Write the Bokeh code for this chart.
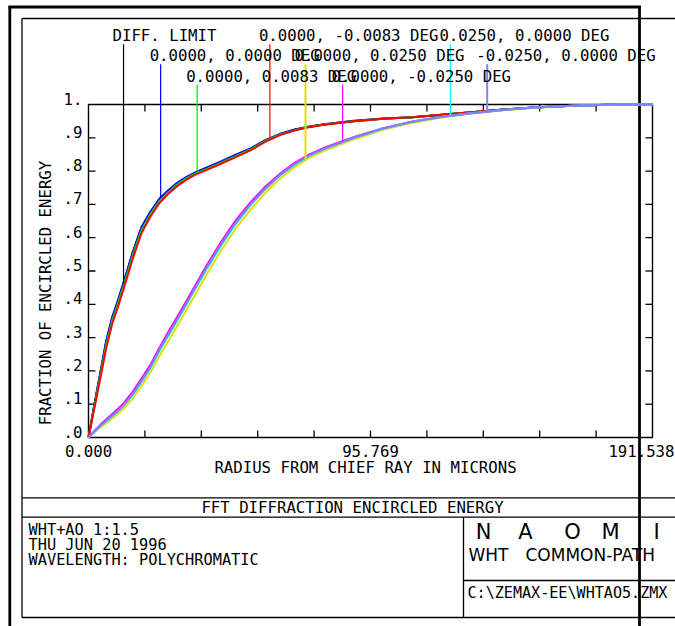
import numpy as np
from bokeh.plotting import figure
from bokeh.models import Range1d
from bokeh.core.properties import value
from bokeh.embed import file_html
from bokeh.resources import INLINE

# ---------------- data ----------------
radius_um = [0, 2, 4, 6, 8, 10, 12, 15, 18, 21, 24, 27, 30, 33, 36, 40, 45, 50, 55,
             60, 65, 70, 75, 80, 90, 100, 110, 120, 130, 140, 150, 160, 170, 180, 191.538]

ee_diff_limit = [0, 0.098, 0.192, 0.287, 0.357, 0.409, 0.465, 0.553, 0.629, 0.675, 0.713, 0.739,
                 0.762, 0.779, 0.793, 0.808, 0.827, 0.847, 0.866, 0.891, 0.910, 0.924, 0.933,
                 0.940, 0.950, 0.957, 0.962, 0.969, 0.977, 0.984, 0.990, 0.995, 0.998, 1.000, 1.000]
ee_0000_0000 = [0, 0.100, 0.195, 0.290, 0.360, 0.412, 0.468, 0.556, 0.632, 0.678, 0.716, 0.742,
                0.764, 0.781, 0.795, 0.810, 0.829, 0.849, 0.868, 0.893, 0.912, 0.925, 0.934,
                0.941, 0.951, 0.958, 0.962, 0.969, 0.977, 0.984, 0.990, 0.995, 0.998, 1.000, 1.000]
ee_0000_p0083 = [0, 0.094, 0.186, 0.279, 0.350, 0.402, 0.458, 0.546, 0.623, 0.670, 0.709, 0.736,
                 0.759, 0.777, 0.791, 0.806, 0.825, 0.845, 0.865, 0.890, 0.910, 0.923, 0.933,
                 0.940, 0.950, 0.957, 0.962, 0.969, 0.977, 0.984, 0.990, 0.995, 0.998, 1.000, 1.000]
ee_0000_m0083 = [0, 0.088, 0.177, 0.268, 0.340, 0.392, 0.448, 0.536, 0.614, 0.663, 0.703, 0.731,
                 0.754, 0.773, 0.788, 0.803, 0.822, 0.842, 0.862, 0.888, 0.908, 0.922, 0.932,
                 0.939, 0.950, 0.957, 0.962, 0.969, 0.977, 0.984, 0.990, 0.995, 0.998, 1.000, 1.000]
ee_0000_p0250 = [0, 0.015, 0.030, 0.043, 0.057, 0.071, 0.087, 0.117, 0.155, 0.195, 0.243, 0.288,
                 0.333, 0.379, 0.425, 0.488, 0.561, 0.627, 0.684, 0.734, 0.777, 0.812, 0.840,
                 0.861, 0.895, 0.924, 0.945, 0.961, 0.973, 0.982, 0.989, 0.995, 0.998, 1.000, 1.000]
ee_0000_m0250 = [0, 0.020, 0.038, 0.054, 0.070, 0.086, 0.104, 0.137, 0.177, 0.218, 0.268, 0.315,
                 0.360, 0.406, 0.453, 0.515, 0.587, 0.652, 0.706, 0.753, 0.792, 0.825, 0.850,
                 0.870, 0.902, 0.929, 0.949, 0.963, 0.974, 0.983, 0.990, 0.995, 0.998, 1.000, 1.000]
ee_p0250_0000 = [0, 0.017, 0.034, 0.048, 0.063, 0.078, 0.096, 0.127, 0.167, 0.208, 0.258, 0.304,
                 0.349, 0.395, 0.442, 0.504, 0.576, 0.641, 0.697, 0.745, 0.786, 0.819, 0.846,
                 0.866, 0.899, 0.927, 0.948, 0.963, 0.974, 0.983, 0.990, 0.995, 0.998, 1.000, 1.000]
ee_m0250_0000 = [0, 0.018, 0.035, 0.050, 0.065, 0.080, 0.098, 0.130, 0.170, 0.211, 0.262, 0.308,
                 0.353, 0.399, 0.446, 0.508, 0.580, 0.645, 0.700, 0.748, 0.788, 0.821, 0.847,
                 0.867, 0.900, 0.928, 0.948, 0.963, 0.974, 0.983, 0.990, 0.995, 0.998, 1.000, 1.000]

series_values = [ee_diff_limit, ee_0000_0000, ee_0000_p0083, ee_0000_m0083,
                 ee_0000_p0250, ee_0000_m0250, ee_p0250_0000, ee_m0250_0000]
series_labels = ["DIFF. LIMIT", "0.0000, 0.0000 DEG", "0.0000, 0.0083 DEG",
                 "0.0000, -0.0083 DEG", "0.0000, 0.0250 DEG", "0.0000, -0.0250 DEG",
                 "0.0250, 0.0000 DEG", "-0.0250, 0.0000 DEG"]
series_colors = ["#000000", "#0000ff", "#00e000", "#ff0000",
                 "#e0e000", "#ff00ff", "#00ffff", "#8080ff"]
marker_radius = [11.9, 24.5, 36.9, 61.6, 73.7, 86.3, 122.9, 135.4]

x_tick_values = [0.0, 19.1538, 38.3076, 57.4614, 76.6152, 95.769,
                 114.9228, 134.0766, 153.2304, 172.3842, 191.538]
x_label_values = [0.0, 95.769, 191.538]
x_label_texts = ["0.000", "95.769", "191.538"]
y_tick_values = [0.0, 0.1, 0.2, 0.3, 0.4, 0.5, 0.6, 0.7, 0.8, 0.9, 1.0]
y_tick_texts = [".0", ".1", ".2", ".3", ".4", ".5", ".6", ".7", ".8", ".9", "1."]

# ---------------- layout (page pixels) ----------------
W, H = 675, 626
PX0, PY0 = 0, 0
X_LEFT, X_RIGHT, Y_TOP, Y_BOTTOM = 88, 652, 104, 437
X_MAX = x_tick_values[-1]
px_per_r = (X_RIGHT - X_LEFT) / X_MAX
px_per_e = (Y_BOTTOM - Y_TOP) / 1.0


def e_of_page(y):
    return (Y_BOTTOM - y) / px_per_e


MONO = value("DejaVu Sans Mono")
SANS = value("DejaVu Sans")
FS = "15.7px"

p = figure(width=W, height=H, x_range=Range1d(PX0, PX0 + W), y_range=Range1d(PY0 + H, PY0),
           x_axis_type=None, y_axis_type=None, min_border=0, toolbar_location=None,
           output_backend="svg", outline_line_color=None)
p.background_fill_color = "white"
p.border_fill_color = "white"
p.extra_x_ranges = {"r": Range1d((PX0 - X_LEFT) / px_per_r, (PX0 + W - X_LEFT) / px_per_r)}
p.extra_y_ranges = {"e": Range1d(e_of_page(PY0 + H), e_of_page(PY0))}

# ---------------- frame decoration ----------------
thin = dict(line_color="black", line_width=1.3)
p.segment(x0=[21.5, 21.5, 21.5, 21.5, 21.5, 463, 463],
          y0=[18, 18, 497.3, 516.7, 617, 516.7, 580],
          x1=[21.5, 680, 680, 680, 680, 463, 680],
          y1=[617, 18, 497.3, 516.7, 617, 617, 580], **thin)
p.segment(x0=[8, 9.3, 639], y0=[6.5, 5.5, 5.5], x1=[640.5, 9.3, 639], y1=[6.5, 630, 630],
          line_color="black", line_width=2.8)

# ---------------- chart box and ticks ----------------
p.quad(left=[0], right=[X_MAX], bottom=[0], top=[1], fill_color=None,
       line_color="black", line_width=1.4, x_range_name="r", y_range_name="e")
tick_e = 7 / px_per_e
tick_r = 7 / px_per_r
xt = x_tick_values[1:-1]
yt = y_tick_values[1:-1]
p.segment(x0=xt + xt, y0=[0] * len(xt) + [1] * len(xt), x1=xt + xt,
          y1=[tick_e] * len(xt) + [1 - tick_e] * len(xt),
          line_color="black", line_width=1.3, x_range_name="r", y_range_name="e")
p.segment(x0=[0] * len(yt) + [X_MAX] * len(yt), y0=yt + yt,
          x1=[tick_r] * len(yt) + [X_MAX - tick_r] * len(yt), y1=yt + yt,
          line_color="black", line_width=1.3, x_range_name="r", y_range_name="e")

# ---------------- curves ----------------
for vals, col in zip(series_values, series_colors):
    p.line(radius_um, vals, line_color=col, line_width=2, line_join="round",
           x_range_name="r", y_range_name="e")

# ---------------- legend markers and labels ----------------
row_y = [35.3, 55.3, 75.5]
rows = [0, 1, 2, 0, 1, 2, 0, 1]
ends = [float(np.interp(m, radius_um, v)) for m, v in zip(marker_radius, series_values)]
tops = [e_of_page(row_y[r] + 8.5) for r in rows]
p.segment(x0=marker_radius, y0=tops, x1=marker_radius, y1=ends, line_color=series_colors,
          line_width=[1.2, 1.2, 1.2, 1.2, 2, 1.2, 1.2, 2],
          x_range_name="r", y_range_name="e")
p.text(x=[m - 11 / px_per_r for m in marker_radius], y=[row_y[r] for r in rows],
       text=series_labels, text_font=MONO, text_font_size=FS, text_color="black",
       text_baseline="middle", text_align="left", x_range_name="r")

# ---------------- axis labels ----------------
p.text(x=[X_LEFT - 6] * len(y_tick_texts), y=[v + 6 / px_per_e for v in y_tick_values],
       text=y_tick_texts, text_font=MONO, text_font_size=FS, text_color="black",
       text_baseline="middle", text_align="right", y_range_name="e")
p.text(x=x_label_values[:2], y=[450] * 2, text=x_label_texts[:2], text_font=MONO,
       text_font_size=FS, text_color="black", text_baseline="middle", text_align="center",
       x_range_name="r")
p.text(x=[W - 1], y=[450], text=x_label_texts[2:], text_font=MONO,
       text_font_size=FS, text_color="black", text_baseline="middle", text_align="right")
p.text(x=[365], y=[467], text=["RADIUS FROM CHIEF RAY IN MICRONS"], text_font=MONO,
       text_font_size=FS, text_color="black", text_baseline="middle", text_align="center")
p.text(x=[45], y=[292.5], text=["FRACTION OF ENCIRCLED ENERGY"], angle=np.pi / 2,
       text_font=MONO, text_font_size=FS, text_color="black",
       text_baseline="middle", text_align="center")

# ---------------- title block ----------------
p.text(x=[352], y=[507], text=["FFT DIFFRACTION ENCIRCLED ENERGY"], text_font=MONO,
       text_font_size=FS, text_color="black", text_baseline="middle", text_align="center")
p.text(x=[28, 28, 28], y=[529, 544, 559],
       text=["WHT+AO 1:1.5", "THU JUN 20 1996", "WAVELENGTH: POLYCHROMATIC"],
       text_font=MONO, text_font_size="15.3px", text_color="black",
       text_baseline="middle", text_align="left")
p.text(x=[483, 525, 572, 610, 656], y=[531] * 5, text=["N", "A", "O", "M", "I"],
       text_font=SANS, text_font_size="21px", text_color="black",
       text_baseline="middle", text_align="center")
p.text(x=[468, 525], y=[554, 554], text=["WHT", "COMMON-PATH"], text_font=SANS,
       text_font_size="17px", text_color="black", text_baseline="middle", text_align="left")
p.text(x=[467], y=[592.5], text=["C:\\ZEMAX-EE\\WHTAO5.ZMX"], text_font=MONO,
       text_font_size="15.1px", text_color="black", text_baseline="middle", text_align="left")

open("out.html", "w").write(file_html(p, INLINE))
